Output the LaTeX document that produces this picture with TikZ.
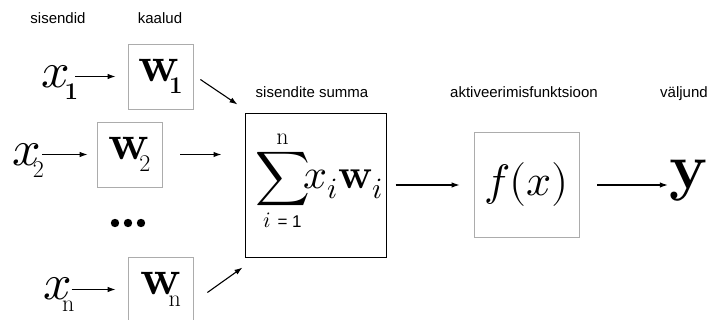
\documentclass[tikz,border=0pt]{standalone}
\usepackage{fontspec}
\usepackage{unicode-math}
\setmathfont{Latin Modern Math}
\newfontfamily\lblfont{Liberation Sans}
\usetikzlibrary{arrows.meta,calc}
\newcommand{\sbs}[2]{\kern#1pt\raisebox{-12pt}{\fontsize{24}{24}\selectfont #2}}
\begin{document}
\begin{tikzpicture}[x=1pt,y=-1pt,
  lbl/.style={font=\lblfont\fontsize{15}{16}\selectfont, inner sep=0, anchor=base},
  wbox/.style={draw=gray!65, line width=0.8pt, minimum width=65pt, minimum height=65pt, inner sep=0},
  big/.style={font=\fontsize{50}{50}\selectfont, inner sep=0},
  arr/.style={-{Latex[length=8pt,width=5.5pt]}, line width=1.1pt}]
\useasboundingbox (0,0) rectangle (715,320);
% labels
\node[lbl] (l1) at (58,24) {sisendid};
\node[lbl] (l2) at (160,24) {kaalud};
\node[lbl] (l3) at (312,98) {sisendite summa};
\node[lbl] (l4) at (524,98) {aktiveerimisfunktsioon};
\node[lbl] (l5) at (684,98) {väljund};
% weight boxes
\node[wbox, big] (w1) at (160.5,76.5) {$\mathbf{w}$\sbs{-10}{\bfseries 1}};
\node[wbox, big] (w2) at (129.5,154.5) {$\mathbf{w}$\sbs{-10}{2}};
\node[wbox, big] (wn) at (160.5,289.5) {$\mathbf{w}$\sbs{-12}{n}};
% inputs
\node[big] (x1) at (60,82) {$x$\sbs{-6}{\bfseries 1}};
\node[big] (x2) at (28,160) {$x$\sbs{-8}{2}};
\node[big] (xn) at (59,294) {$x$\sbs{-10}{n}};
% dots
\fill (115,223) circle (4.2);
\fill (128,223) circle (4.2);
\fill (141,223) circle (4.2);
% sum box
\node[draw=black, line width=1pt, minimum width=141pt, minimum height=144pt, inner sep=0] (sum) at (315.5,186) {};
\node[inner sep=0, font=\fontsize{38}{38}\selectfont] (sumtxt) at (319,181)
      {$\displaystyle\sum_{\hbox{\fontsize{22}{22}\selectfont$i$\ \lblfont\fontsize{17}{17}\selectfont = 1}}^{\hbox{\fontsize{24}{24}\selectfont n}}\!\!\hbox{\fontsize{42}{42}\selectfont$x_i\mathbf{w}_i$}$};
% activation box
\node[draw=gray!65, line width=0.8pt, minimum width=105pt, minimum height=105pt, inner sep=0,
      font=\fontsize{44}{44}\selectfont] (f) at (526.5,185) {$f(x)$};
% output
\node[font=\fontsize{64}{64}\selectfont, inner sep=0] (y) at (689,181) {$\mathbf{y}$};
% connectors
\draw[arr, shorten >=12pt] ($(x1.east |- w1.west)+(-3,0)$) -- (w1.west);
\draw[arr, shorten >=9pt] ($(x2.east |- w2.west)+(-2,0)$) -- (w2.west);
\draw[arr, shorten >=12pt] ($(xn.east |- wn.west)+(-3,0)$) -- (wn.west);
\draw[arr] ($(w1.east)+(7,3)$) -- ($(sum.north west)+(-7,-9)$);
\draw[arr, shorten <=18pt, shorten >=23pt] (w2.east) -- (w2.east -| sum.west);
\draw[arr] ($(wn.east)+(14,3)$) -- ($(sum.south west)+(-2,9)$);
\draw[arr, shorten <=9pt, shorten >=14pt] (sum.east |- f.west) -- (f.west);
\draw[arr, shorten <=18pt, shorten >=2pt] (f.east) -- (f.east -| y.west);
\end{tikzpicture}
\end{document}
